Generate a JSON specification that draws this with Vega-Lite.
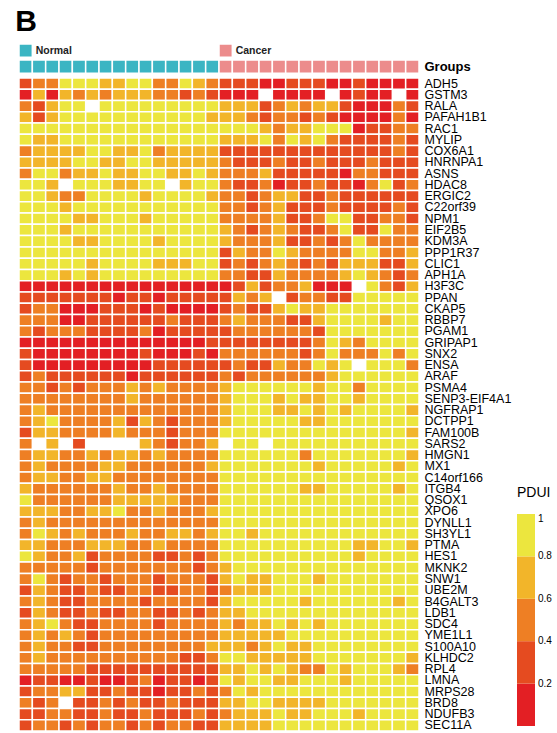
{
"$schema": "https://vega.github.io/schema/vega-lite/v6.json",
"padding": {"left": 15, "top": 7, "right": 0, "bottom": 0},
"title": {"text": "B", "fontSize": 30, "fontWeight": "bold", "font": "Liberation Sans", "anchor": "start", "dx": -3, "offset": 6, "color": "black"},
"config": {"view": {"stroke": null}, "font": "Liberation Sans", "concat": {"spacing": 3}},
"resolve": {"scale": {"color": "independent", "y": "independent"}, "legend": {"color": "independent"}},
"datasets": {
"groups": [
{"row":"legend","s":1,"grp":"Normal"},{"row":"legend","s":16,"grp":"Cancer"},
{"row":"Groups","s":1,"grp":"Normal"},{"row":"Groups","s":2,"grp":"Normal"},{"row":"Groups","s":3,"grp":"Normal"},{"row":"Groups","s":4,"grp":"Normal"},{"row":"Groups","s":5,"grp":"Normal"},{"row":"Groups","s":6,"grp":"Normal"},{"row":"Groups","s":7,"grp":"Normal"},{"row":"Groups","s":8,"grp":"Normal"},{"row":"Groups","s":9,"grp":"Normal"},{"row":"Groups","s":10,"grp":"Normal"},{"row":"Groups","s":11,"grp":"Normal"},{"row":"Groups","s":12,"grp":"Normal"},{"row":"Groups","s":13,"grp":"Normal"},{"row":"Groups","s":14,"grp":"Normal"},{"row":"Groups","s":15,"grp":"Normal"},
{"row":"Groups","s":16,"grp":"Cancer"},{"row":"Groups","s":17,"grp":"Cancer"},{"row":"Groups","s":18,"grp":"Cancer"},{"row":"Groups","s":19,"grp":"Cancer"},{"row":"Groups","s":20,"grp":"Cancer"},{"row":"Groups","s":21,"grp":"Cancer"},{"row":"Groups","s":22,"grp":"Cancer"},{"row":"Groups","s":23,"grp":"Cancer"},{"row":"Groups","s":24,"grp":"Cancer"},{"row":"Groups","s":25,"grp":"Cancer"},{"row":"Groups","s":26,"grp":"Cancer"},{"row":"Groups","s":27,"grp":"Cancer"},{"row":"Groups","s":28,"grp":"Cancer"},{"row":"Groups","s":29,"grp":"Cancer"},{"row":"Groups","s":30,"grp":"Cancer"}
],
"cells": [
{"g":"ADH5","s":1,"v":0.3},{"g":"ADH5","s":2,"v":0.5},{"g":"ADH5","s":3,"v":0.5},{"g":"ADH5","s":4,"v":0.9},{"g":"ADH5","s":5,"v":0.9},{"g":"ADH5","s":6,"v":0.9},{"g":"ADH5","s":7,"v":0.7},{"g":"ADH5","s":8,"v":0.7},{"g":"ADH5","s":9,"v":0.9},{"g":"ADH5","s":10,"v":0.9},{"g":"ADH5","s":11,"v":0.5},{"g":"ADH5","s":12,"v":0.5},{"g":"ADH5","s":13,"v":0.9},{"g":"ADH5","s":14,"v":0.7},{"g":"ADH5","s":15,"v":0.5},{"g":"ADH5","s":16,"v":0.3},{"g":"ADH5","s":17,"v":0.3},{"g":"ADH5","s":18,"v":0.3},{"g":"ADH5","s":19,"v":0.1},{"g":"ADH5","s":20,"v":0.1},{"g":"ADH5","s":21,"v":0.3},{"g":"ADH5","s":22,"v":0.3},{"g":"ADH5","s":23,"v":0.3},{"g":"ADH5","s":24,"v":0.1},{"g":"ADH5","s":25,"v":0.1},{"g":"ADH5","s":26,"v":0.3},{"g":"ADH5","s":27,"v":0.1},{"g":"ADH5","s":28,"v":0.1},{"g":"ADH5","s":29,"v":0.1},{"g":"ADH5","s":30,"v":0.1},
{"g":"GSTM3","s":1,"v":0.1},{"g":"GSTM3","s":2,"v":0.7},{"g":"GSTM3","s":3,"v":0.1},{"g":"GSTM3","s":4,"v":0.7},{"g":"GSTM3","s":5,"v":0.5},{"g":"GSTM3","s":6,"v":0.7},{"g":"GSTM3","s":7,"v":0.5},{"g":"GSTM3","s":8,"v":0.7},{"g":"GSTM3","s":9,"v":0.7},{"g":"GSTM3","s":10,"v":0.7},{"g":"GSTM3","s":11,"v":0.5},{"g":"GSTM3","s":12,"v":0.5},{"g":"GSTM3","s":13,"v":0.3},{"g":"GSTM3","s":14,"v":0.5},{"g":"GSTM3","s":15,"v":0.3},{"g":"GSTM3","s":16,"v":0.1},{"g":"GSTM3","s":17,"v":0.1},{"g":"GSTM3","s":18,"v":0.1},{"g":"GSTM3","s":19,"v":null},{"g":"GSTM3","s":20,"v":0.1},{"g":"GSTM3","s":21,"v":0.1},{"g":"GSTM3","s":22,"v":0.1},{"g":"GSTM3","s":23,"v":0.1},{"g":"GSTM3","s":24,"v":null},{"g":"GSTM3","s":25,"v":0.1},{"g":"GSTM3","s":26,"v":0.3},{"g":"GSTM3","s":27,"v":0.1},{"g":"GSTM3","s":28,"v":0.1},{"g":"GSTM3","s":29,"v":null},{"g":"GSTM3","s":30,"v":0.1},
{"g":"RALA","s":1,"v":0.5},{"g":"RALA","s":2,"v":0.3},{"g":"RALA","s":3,"v":0.7},{"g":"RALA","s":4,"v":0.9},{"g":"RALA","s":5,"v":0.9},{"g":"RALA","s":6,"v":null},{"g":"RALA","s":7,"v":0.9},{"g":"RALA","s":8,"v":0.9},{"g":"RALA","s":9,"v":0.9},{"g":"RALA","s":10,"v":0.9},{"g":"RALA","s":11,"v":0.9},{"g":"RALA","s":12,"v":0.9},{"g":"RALA","s":13,"v":0.9},{"g":"RALA","s":14,"v":0.9},{"g":"RALA","s":15,"v":0.9},{"g":"RALA","s":16,"v":0.7},{"g":"RALA","s":17,"v":0.7},{"g":"RALA","s":18,"v":0.7},{"g":"RALA","s":19,"v":0.3},{"g":"RALA","s":20,"v":0.5},{"g":"RALA","s":21,"v":0.7},{"g":"RALA","s":22,"v":0.5},{"g":"RALA","s":23,"v":0.7},{"g":"RALA","s":24,"v":0.7},{"g":"RALA","s":25,"v":0.3},{"g":"RALA","s":26,"v":0.1},{"g":"RALA","s":27,"v":0.1},{"g":"RALA","s":28,"v":0.1},{"g":"RALA","s":29,"v":0.5},{"g":"RALA","s":30,"v":0.3},
{"g":"PAFAH1B1","s":1,"v":0.7},{"g":"PAFAH1B1","s":2,"v":0.3},{"g":"PAFAH1B1","s":3,"v":0.7},{"g":"PAFAH1B1","s":4,"v":0.9},{"g":"PAFAH1B1","s":5,"v":0.9},{"g":"PAFAH1B1","s":6,"v":0.9},{"g":"PAFAH1B1","s":7,"v":0.9},{"g":"PAFAH1B1","s":8,"v":0.9},{"g":"PAFAH1B1","s":9,"v":0.9},{"g":"PAFAH1B1","s":10,"v":0.9},{"g":"PAFAH1B1","s":11,"v":0.9},{"g":"PAFAH1B1","s":12,"v":0.9},{"g":"PAFAH1B1","s":13,"v":0.9},{"g":"PAFAH1B1","s":14,"v":0.9},{"g":"PAFAH1B1","s":15,"v":0.7},{"g":"PAFAH1B1","s":16,"v":0.7},{"g":"PAFAH1B1","s":17,"v":0.7},{"g":"PAFAH1B1","s":18,"v":0.5},{"g":"PAFAH1B1","s":19,"v":0.3},{"g":"PAFAH1B1","s":20,"v":0.5},{"g":"PAFAH1B1","s":21,"v":0.5},{"g":"PAFAH1B1","s":22,"v":0.3},{"g":"PAFAH1B1","s":23,"v":0.5},{"g":"PAFAH1B1","s":24,"v":0.3},{"g":"PAFAH1B1","s":25,"v":0.1},{"g":"PAFAH1B1","s":26,"v":0.1},{"g":"PAFAH1B1","s":27,"v":0.1},{"g":"PAFAH1B1","s":28,"v":0.1},{"g":"PAFAH1B1","s":29,"v":0.5},{"g":"PAFAH1B1","s":30,"v":0.1},
{"g":"RAC1","s":1,"v":0.9},{"g":"RAC1","s":2,"v":0.9},{"g":"RAC1","s":3,"v":0.9},{"g":"RAC1","s":4,"v":0.9},{"g":"RAC1","s":5,"v":0.9},{"g":"RAC1","s":6,"v":0.9},{"g":"RAC1","s":7,"v":0.9},{"g":"RAC1","s":8,"v":0.9},{"g":"RAC1","s":9,"v":0.9},{"g":"RAC1","s":10,"v":0.9},{"g":"RAC1","s":11,"v":0.9},{"g":"RAC1","s":12,"v":0.9},{"g":"RAC1","s":13,"v":0.9},{"g":"RAC1","s":14,"v":0.9},{"g":"RAC1","s":15,"v":0.9},{"g":"RAC1","s":16,"v":0.9},{"g":"RAC1","s":17,"v":0.9},{"g":"RAC1","s":18,"v":0.9},{"g":"RAC1","s":19,"v":0.7},{"g":"RAC1","s":20,"v":0.5},{"g":"RAC1","s":21,"v":0.7},{"g":"RAC1","s":22,"v":0.7},{"g":"RAC1","s":23,"v":0.9},{"g":"RAC1","s":24,"v":0.9},{"g":"RAC1","s":25,"v":0.9},{"g":"RAC1","s":26,"v":0.1},{"g":"RAC1","s":27,"v":0.3},{"g":"RAC1","s":28,"v":0.3},{"g":"RAC1","s":29,"v":0.5},{"g":"RAC1","s":30,"v":0.5},
{"g":"MYLIP","s":1,"v":0.9},{"g":"MYLIP","s":2,"v":0.7},{"g":"MYLIP","s":3,"v":0.7},{"g":"MYLIP","s":4,"v":0.9},{"g":"MYLIP","s":5,"v":0.9},{"g":"MYLIP","s":6,"v":0.9},{"g":"MYLIP","s":7,"v":0.9},{"g":"MYLIP","s":8,"v":0.9},{"g":"MYLIP","s":9,"v":0.9},{"g":"MYLIP","s":10,"v":0.9},{"g":"MYLIP","s":11,"v":0.9},{"g":"MYLIP","s":12,"v":0.9},{"g":"MYLIP","s":13,"v":0.9},{"g":"MYLIP","s":14,"v":0.9},{"g":"MYLIP","s":15,"v":0.9},{"g":"MYLIP","s":16,"v":0.7},{"g":"MYLIP","s":17,"v":0.7},{"g":"MYLIP","s":18,"v":0.7},{"g":"MYLIP","s":19,"v":0.9},{"g":"MYLIP","s":20,"v":0.5},{"g":"MYLIP","s":21,"v":0.9},{"g":"MYLIP","s":22,"v":0.7},{"g":"MYLIP","s":23,"v":0.9},{"g":"MYLIP","s":24,"v":0.5},{"g":"MYLIP","s":25,"v":0.3},{"g":"MYLIP","s":26,"v":0.3},{"g":"MYLIP","s":27,"v":0.3},{"g":"MYLIP","s":28,"v":0.3},{"g":"MYLIP","s":29,"v":0.5},{"g":"MYLIP","s":30,"v":0.3},
{"g":"COX6A1","s":1,"v":0.5},{"g":"COX6A1","s":2,"v":0.7},{"g":"COX6A1","s":3,"v":0.7},{"g":"COX6A1","s":4,"v":0.7},{"g":"COX6A1","s":5,"v":0.7},{"g":"COX6A1","s":6,"v":0.9},{"g":"COX6A1","s":7,"v":0.9},{"g":"COX6A1","s":8,"v":0.7},{"g":"COX6A1","s":9,"v":0.7},{"g":"COX6A1","s":10,"v":0.9},{"g":"COX6A1","s":11,"v":0.5},{"g":"COX6A1","s":12,"v":0.7},{"g":"COX6A1","s":13,"v":0.7},{"g":"COX6A1","s":14,"v":0.7},{"g":"COX6A1","s":15,"v":0.7},{"g":"COX6A1","s":16,"v":0.3},{"g":"COX6A1","s":17,"v":0.3},{"g":"COX6A1","s":18,"v":0.3},{"g":"COX6A1","s":19,"v":0.3},{"g":"COX6A1","s":20,"v":0.3},{"g":"COX6A1","s":21,"v":0.3},{"g":"COX6A1","s":22,"v":0.3},{"g":"COX6A1","s":23,"v":0.3},{"g":"COX6A1","s":24,"v":0.3},{"g":"COX6A1","s":25,"v":0.3},{"g":"COX6A1","s":26,"v":0.3},{"g":"COX6A1","s":27,"v":0.3},{"g":"COX6A1","s":28,"v":0.3},{"g":"COX6A1","s":29,"v":0.5},{"g":"COX6A1","s":30,"v":0.3},
{"g":"HNRNPA1","s":1,"v":0.7},{"g":"HNRNPA1","s":2,"v":0.7},{"g":"HNRNPA1","s":3,"v":0.7},{"g":"HNRNPA1","s":4,"v":0.7},{"g":"HNRNPA1","s":5,"v":0.9},{"g":"HNRNPA1","s":6,"v":0.9},{"g":"HNRNPA1","s":7,"v":0.7},{"g":"HNRNPA1","s":8,"v":0.7},{"g":"HNRNPA1","s":9,"v":0.9},{"g":"HNRNPA1","s":10,"v":0.9},{"g":"HNRNPA1","s":11,"v":0.7},{"g":"HNRNPA1","s":12,"v":0.7},{"g":"HNRNPA1","s":13,"v":0.7},{"g":"HNRNPA1","s":14,"v":0.7},{"g":"HNRNPA1","s":15,"v":0.7},{"g":"HNRNPA1","s":16,"v":0.5},{"g":"HNRNPA1","s":17,"v":0.3},{"g":"HNRNPA1","s":18,"v":0.3},{"g":"HNRNPA1","s":19,"v":0.3},{"g":"HNRNPA1","s":20,"v":0.5},{"g":"HNRNPA1","s":21,"v":0.3},{"g":"HNRNPA1","s":22,"v":0.3},{"g":"HNRNPA1","s":23,"v":0.5},{"g":"HNRNPA1","s":24,"v":0.3},{"g":"HNRNPA1","s":25,"v":0.3},{"g":"HNRNPA1","s":26,"v":0.3},{"g":"HNRNPA1","s":27,"v":0.5},{"g":"HNRNPA1","s":28,"v":0.3},{"g":"HNRNPA1","s":29,"v":0.3},{"g":"HNRNPA1","s":30,"v":0.3},
{"g":"ASNS","s":1,"v":0.5},{"g":"ASNS","s":2,"v":0.9},{"g":"ASNS","s":3,"v":0.9},{"g":"ASNS","s":4,"v":0.5},{"g":"ASNS","s":5,"v":0.7},{"g":"ASNS","s":6,"v":0.7},{"g":"ASNS","s":7,"v":0.9},{"g":"ASNS","s":8,"v":0.7},{"g":"ASNS","s":9,"v":0.7},{"g":"ASNS","s":10,"v":0.9},{"g":"ASNS","s":11,"v":0.9},{"g":"ASNS","s":12,"v":0.7},{"g":"ASNS","s":13,"v":0.7},{"g":"ASNS","s":14,"v":0.9},{"g":"ASNS","s":15,"v":0.7},{"g":"ASNS","s":16,"v":0.5},{"g":"ASNS","s":17,"v":0.5},{"g":"ASNS","s":18,"v":0.5},{"g":"ASNS","s":19,"v":0.7},{"g":"ASNS","s":20,"v":0.3},{"g":"ASNS","s":21,"v":0.3},{"g":"ASNS","s":22,"v":0.3},{"g":"ASNS","s":23,"v":0.3},{"g":"ASNS","s":24,"v":0.3},{"g":"ASNS","s":25,"v":0.1},{"g":"ASNS","s":26,"v":0.5},{"g":"ASNS","s":27,"v":0.5},{"g":"ASNS","s":28,"v":0.3},{"g":"ASNS","s":29,"v":0.3},{"g":"ASNS","s":30,"v":0.3},
{"g":"HDAC8","s":1,"v":0.9},{"g":"HDAC8","s":2,"v":0.9},{"g":"HDAC8","s":3,"v":0.7},{"g":"HDAC8","s":4,"v":null},{"g":"HDAC8","s":5,"v":0.9},{"g":"HDAC8","s":6,"v":0.9},{"g":"HDAC8","s":7,"v":0.9},{"g":"HDAC8","s":8,"v":0.7},{"g":"HDAC8","s":9,"v":0.7},{"g":"HDAC8","s":10,"v":0.9},{"g":"HDAC8","s":11,"v":0.9},{"g":"HDAC8","s":12,"v":null},{"g":"HDAC8","s":13,"v":0.7},{"g":"HDAC8","s":14,"v":0.9},{"g":"HDAC8","s":15,"v":0.9},{"g":"HDAC8","s":16,"v":0.5},{"g":"HDAC8","s":17,"v":0.3},{"g":"HDAC8","s":18,"v":0.3},{"g":"HDAC8","s":19,"v":0.5},{"g":"HDAC8","s":20,"v":0.1},{"g":"HDAC8","s":21,"v":0.3},{"g":"HDAC8","s":22,"v":0.3},{"g":"HDAC8","s":23,"v":0.5},{"g":"HDAC8","s":24,"v":0.3},{"g":"HDAC8","s":25,"v":0.3},{"g":"HDAC8","s":26,"v":0.1},{"g":"HDAC8","s":27,"v":0.5},{"g":"HDAC8","s":28,"v":0.9},{"g":"HDAC8","s":29,"v":0.3},{"g":"HDAC8","s":30,"v":0.5},
{"g":"ERGIC2","s":1,"v":0.9},{"g":"ERGIC2","s":2,"v":0.9},{"g":"ERGIC2","s":3,"v":0.7},{"g":"ERGIC2","s":4,"v":0.5},{"g":"ERGIC2","s":5,"v":0.5},{"g":"ERGIC2","s":6,"v":0.9},{"g":"ERGIC2","s":7,"v":0.9},{"g":"ERGIC2","s":8,"v":0.9},{"g":"ERGIC2","s":9,"v":0.9},{"g":"ERGIC2","s":10,"v":0.7},{"g":"ERGIC2","s":11,"v":0.9},{"g":"ERGIC2","s":12,"v":0.9},{"g":"ERGIC2","s":13,"v":0.9},{"g":"ERGIC2","s":14,"v":0.9},{"g":"ERGIC2","s":15,"v":0.7},{"g":"ERGIC2","s":16,"v":0.5},{"g":"ERGIC2","s":17,"v":0.5},{"g":"ERGIC2","s":18,"v":0.3},{"g":"ERGIC2","s":19,"v":0.5},{"g":"ERGIC2","s":20,"v":0.7},{"g":"ERGIC2","s":21,"v":0.7},{"g":"ERGIC2","s":22,"v":0.3},{"g":"ERGIC2","s":23,"v":0.3},{"g":"ERGIC2","s":24,"v":0.5},{"g":"ERGIC2","s":25,"v":0.3},{"g":"ERGIC2","s":26,"v":0.3},{"g":"ERGIC2","s":27,"v":0.3},{"g":"ERGIC2","s":28,"v":0.3},{"g":"ERGIC2","s":29,"v":0.3},{"g":"ERGIC2","s":30,"v":0.3},
{"g":"C22orf39","s":1,"v":0.9},{"g":"C22orf39","s":2,"v":0.9},{"g":"C22orf39","s":3,"v":0.9},{"g":"C22orf39","s":4,"v":0.7},{"g":"C22orf39","s":5,"v":0.9},{"g":"C22orf39","s":6,"v":0.9},{"g":"C22orf39","s":7,"v":0.9},{"g":"C22orf39","s":8,"v":0.9},{"g":"C22orf39","s":9,"v":0.9},{"g":"C22orf39","s":10,"v":0.9},{"g":"C22orf39","s":11,"v":0.9},{"g":"C22orf39","s":12,"v":0.9},{"g":"C22orf39","s":13,"v":0.9},{"g":"C22orf39","s":14,"v":0.9},{"g":"C22orf39","s":15,"v":0.9},{"g":"C22orf39","s":16,"v":0.5},{"g":"C22orf39","s":17,"v":0.5},{"g":"C22orf39","s":18,"v":0.3},{"g":"C22orf39","s":19,"v":0.5},{"g":"C22orf39","s":20,"v":0.7},{"g":"C22orf39","s":21,"v":0.3},{"g":"C22orf39","s":22,"v":0.3},{"g":"C22orf39","s":23,"v":0.3},{"g":"C22orf39","s":24,"v":0.5},{"g":"C22orf39","s":25,"v":0.3},{"g":"C22orf39","s":26,"v":0.3},{"g":"C22orf39","s":27,"v":0.3},{"g":"C22orf39","s":28,"v":0.3},{"g":"C22orf39","s":29,"v":0.5},{"g":"C22orf39","s":30,"v":0.3},
{"g":"NPM1","s":1,"v":0.9},{"g":"NPM1","s":2,"v":0.9},{"g":"NPM1","s":3,"v":0.9},{"g":"NPM1","s":4,"v":0.9},{"g":"NPM1","s":5,"v":0.7},{"g":"NPM1","s":6,"v":0.7},{"g":"NPM1","s":7,"v":0.9},{"g":"NPM1","s":8,"v":0.9},{"g":"NPM1","s":9,"v":0.9},{"g":"NPM1","s":10,"v":0.7},{"g":"NPM1","s":11,"v":0.9},{"g":"NPM1","s":12,"v":0.9},{"g":"NPM1","s":13,"v":0.9},{"g":"NPM1","s":14,"v":0.9},{"g":"NPM1","s":15,"v":0.9},{"g":"NPM1","s":16,"v":0.5},{"g":"NPM1","s":17,"v":0.5},{"g":"NPM1","s":18,"v":0.5},{"g":"NPM1","s":19,"v":0.5},{"g":"NPM1","s":20,"v":0.7},{"g":"NPM1","s":21,"v":0.3},{"g":"NPM1","s":22,"v":0.3},{"g":"NPM1","s":23,"v":0.5},{"g":"NPM1","s":24,"v":0.9},{"g":"NPM1","s":25,"v":0.9},{"g":"NPM1","s":26,"v":0.3},{"g":"NPM1","s":27,"v":0.3},{"g":"NPM1","s":28,"v":0.5},{"g":"NPM1","s":29,"v":0.5},{"g":"NPM1","s":30,"v":0.3},
{"g":"EIF2B5","s":1,"v":0.9},{"g":"EIF2B5","s":2,"v":0.9},{"g":"EIF2B5","s":3,"v":0.9},{"g":"EIF2B5","s":4,"v":0.7},{"g":"EIF2B5","s":5,"v":0.9},{"g":"EIF2B5","s":6,"v":0.9},{"g":"EIF2B5","s":7,"v":0.9},{"g":"EIF2B5","s":8,"v":0.9},{"g":"EIF2B5","s":9,"v":0.9},{"g":"EIF2B5","s":10,"v":0.9},{"g":"EIF2B5","s":11,"v":0.9},{"g":"EIF2B5","s":12,"v":0.9},{"g":"EIF2B5","s":13,"v":0.9},{"g":"EIF2B5","s":14,"v":0.9},{"g":"EIF2B5","s":15,"v":0.9},{"g":"EIF2B5","s":16,"v":0.7},{"g":"EIF2B5","s":17,"v":0.5},{"g":"EIF2B5","s":18,"v":0.3},{"g":"EIF2B5","s":19,"v":0.5},{"g":"EIF2B5","s":20,"v":0.7},{"g":"EIF2B5","s":21,"v":0.5},{"g":"EIF2B5","s":22,"v":0.3},{"g":"EIF2B5","s":23,"v":0.3},{"g":"EIF2B5","s":24,"v":0.5},{"g":"EIF2B5","s":25,"v":0.9},{"g":"EIF2B5","s":26,"v":0.3},{"g":"EIF2B5","s":27,"v":0.3},{"g":"EIF2B5","s":28,"v":0.9},{"g":"EIF2B5","s":29,"v":0.5},{"g":"EIF2B5","s":30,"v":0.5},
{"g":"KDM3A","s":1,"v":0.9},{"g":"KDM3A","s":2,"v":0.9},{"g":"KDM3A","s":3,"v":0.9},{"g":"KDM3A","s":4,"v":0.9},{"g":"KDM3A","s":5,"v":0.7},{"g":"KDM3A","s":6,"v":0.7},{"g":"KDM3A","s":7,"v":0.9},{"g":"KDM3A","s":8,"v":0.9},{"g":"KDM3A","s":9,"v":0.9},{"g":"KDM3A","s":10,"v":0.9},{"g":"KDM3A","s":11,"v":0.7},{"g":"KDM3A","s":12,"v":0.9},{"g":"KDM3A","s":13,"v":0.9},{"g":"KDM3A","s":14,"v":0.9},{"g":"KDM3A","s":15,"v":0.9},{"g":"KDM3A","s":16,"v":0.7},{"g":"KDM3A","s":17,"v":0.5},{"g":"KDM3A","s":18,"v":0.5},{"g":"KDM3A","s":19,"v":0.5},{"g":"KDM3A","s":20,"v":0.7},{"g":"KDM3A","s":21,"v":0.3},{"g":"KDM3A","s":22,"v":0.3},{"g":"KDM3A","s":23,"v":0.5},{"g":"KDM3A","s":24,"v":0.3},{"g":"KDM3A","s":25,"v":0.5},{"g":"KDM3A","s":26,"v":0.9},{"g":"KDM3A","s":27,"v":0.5},{"g":"KDM3A","s":28,"v":0.5},{"g":"KDM3A","s":29,"v":0.5},{"g":"KDM3A","s":30,"v":0.5},
{"g":"PPP1R37","s":1,"v":0.9},{"g":"PPP1R37","s":2,"v":0.9},{"g":"PPP1R37","s":3,"v":0.9},{"g":"PPP1R37","s":4,"v":0.9},{"g":"PPP1R37","s":5,"v":0.9},{"g":"PPP1R37","s":6,"v":0.9},{"g":"PPP1R37","s":7,"v":0.9},{"g":"PPP1R37","s":8,"v":0.9},{"g":"PPP1R37","s":9,"v":0.9},{"g":"PPP1R37","s":10,"v":0.9},{"g":"PPP1R37","s":11,"v":0.9},{"g":"PPP1R37","s":12,"v":0.9},{"g":"PPP1R37","s":13,"v":0.9},{"g":"PPP1R37","s":14,"v":0.9},{"g":"PPP1R37","s":15,"v":0.9},{"g":"PPP1R37","s":16,"v":0.3},{"g":"PPP1R37","s":17,"v":0.7},{"g":"PPP1R37","s":18,"v":0.5},{"g":"PPP1R37","s":19,"v":0.5},{"g":"PPP1R37","s":20,"v":0.9},{"g":"PPP1R37","s":21,"v":0.7},{"g":"PPP1R37","s":22,"v":0.5},{"g":"PPP1R37","s":23,"v":0.5},{"g":"PPP1R37","s":24,"v":0.5},{"g":"PPP1R37","s":25,"v":0.5},{"g":"PPP1R37","s":26,"v":0.9},{"g":"PPP1R37","s":27,"v":0.9},{"g":"PPP1R37","s":28,"v":0.5},{"g":"PPP1R37","s":29,"v":0.5},{"g":"PPP1R37","s":30,"v":0.7},
{"g":"CLIC1","s":1,"v":0.9},{"g":"CLIC1","s":2,"v":0.9},{"g":"CLIC1","s":3,"v":0.9},{"g":"CLIC1","s":4,"v":0.9},{"g":"CLIC1","s":5,"v":0.9},{"g":"CLIC1","s":6,"v":0.7},{"g":"CLIC1","s":7,"v":0.9},{"g":"CLIC1","s":8,"v":0.9},{"g":"CLIC1","s":9,"v":0.9},{"g":"CLIC1","s":10,"v":0.9},{"g":"CLIC1","s":11,"v":0.7},{"g":"CLIC1","s":12,"v":0.7},{"g":"CLIC1","s":13,"v":0.7},{"g":"CLIC1","s":14,"v":0.9},{"g":"CLIC1","s":15,"v":0.9},{"g":"CLIC1","s":16,"v":0.3},{"g":"CLIC1","s":17,"v":0.5},{"g":"CLIC1","s":18,"v":0.3},{"g":"CLIC1","s":19,"v":0.5},{"g":"CLIC1","s":20,"v":0.7},{"g":"CLIC1","s":21,"v":0.5},{"g":"CLIC1","s":22,"v":0.3},{"g":"CLIC1","s":23,"v":0.5},{"g":"CLIC1","s":24,"v":0.3},{"g":"CLIC1","s":25,"v":0.7},{"g":"CLIC1","s":26,"v":0.7},{"g":"CLIC1","s":27,"v":0.7},{"g":"CLIC1","s":28,"v":0.3},{"g":"CLIC1","s":29,"v":0.3},{"g":"CLIC1","s":30,"v":0.7},
{"g":"APH1A","s":1,"v":0.9},{"g":"APH1A","s":2,"v":0.9},{"g":"APH1A","s":3,"v":0.9},{"g":"APH1A","s":4,"v":0.7},{"g":"APH1A","s":5,"v":0.9},{"g":"APH1A","s":6,"v":0.7},{"g":"APH1A","s":7,"v":0.9},{"g":"APH1A","s":8,"v":0.9},{"g":"APH1A","s":9,"v":0.9},{"g":"APH1A","s":10,"v":0.9},{"g":"APH1A","s":11,"v":0.9},{"g":"APH1A","s":12,"v":0.9},{"g":"APH1A","s":13,"v":0.9},{"g":"APH1A","s":14,"v":0.9},{"g":"APH1A","s":15,"v":0.9},{"g":"APH1A","s":16,"v":0.5},{"g":"APH1A","s":17,"v":0.5},{"g":"APH1A","s":18,"v":0.3},{"g":"APH1A","s":19,"v":0.3},{"g":"APH1A","s":20,"v":0.7},{"g":"APH1A","s":21,"v":0.5},{"g":"APH1A","s":22,"v":0.5},{"g":"APH1A","s":23,"v":0.5},{"g":"APH1A","s":24,"v":0.5},{"g":"APH1A","s":25,"v":0.7},{"g":"APH1A","s":26,"v":0.9},{"g":"APH1A","s":27,"v":0.7},{"g":"APH1A","s":28,"v":0.5},{"g":"APH1A","s":29,"v":0.3},{"g":"APH1A","s":30,"v":0.5},
{"g":"H3F3C","s":1,"v":0.1},{"g":"H3F3C","s":2,"v":0.1},{"g":"H3F3C","s":3,"v":0.1},{"g":"H3F3C","s":4,"v":0.1},{"g":"H3F3C","s":5,"v":0.1},{"g":"H3F3C","s":6,"v":0.1},{"g":"H3F3C","s":7,"v":0.1},{"g":"H3F3C","s":8,"v":0.1},{"g":"H3F3C","s":9,"v":0.1},{"g":"H3F3C","s":10,"v":0.1},{"g":"H3F3C","s":11,"v":0.1},{"g":"H3F3C","s":12,"v":0.1},{"g":"H3F3C","s":13,"v":0.1},{"g":"H3F3C","s":14,"v":0.1},{"g":"H3F3C","s":15,"v":0.1},{"g":"H3F3C","s":16,"v":0.1},{"g":"H3F3C","s":17,"v":0.3},{"g":"H3F3C","s":18,"v":0.7},{"g":"H3F3C","s":19,"v":0.3},{"g":"H3F3C","s":20,"v":0.5},{"g":"H3F3C","s":21,"v":0.5},{"g":"H3F3C","s":22,"v":0.7},{"g":"H3F3C","s":23,"v":0.1},{"g":"H3F3C","s":24,"v":0.1},{"g":"H3F3C","s":25,"v":0.1},{"g":"H3F3C","s":26,"v":null},{"g":"H3F3C","s":27,"v":0.9},{"g":"H3F3C","s":28,"v":0.5},{"g":"H3F3C","s":29,"v":0.3},{"g":"H3F3C","s":30,"v":0.7},
{"g":"PPAN","s":1,"v":0.3},{"g":"PPAN","s":2,"v":0.3},{"g":"PPAN","s":3,"v":0.3},{"g":"PPAN","s":4,"v":0.3},{"g":"PPAN","s":5,"v":0.3},{"g":"PPAN","s":6,"v":0.3},{"g":"PPAN","s":7,"v":0.3},{"g":"PPAN","s":8,"v":0.1},{"g":"PPAN","s":9,"v":0.3},{"g":"PPAN","s":10,"v":0.3},{"g":"PPAN","s":11,"v":0.1},{"g":"PPAN","s":12,"v":0.3},{"g":"PPAN","s":13,"v":0.3},{"g":"PPAN","s":14,"v":0.3},{"g":"PPAN","s":15,"v":0.3},{"g":"PPAN","s":16,"v":0.3},{"g":"PPAN","s":17,"v":0.7},{"g":"PPAN","s":18,"v":0.5},{"g":"PPAN","s":19,"v":0.7},{"g":"PPAN","s":20,"v":null},{"g":"PPAN","s":21,"v":0.3},{"g":"PPAN","s":22,"v":0.5},{"g":"PPAN","s":23,"v":0.5},{"g":"PPAN","s":24,"v":0.3},{"g":"PPAN","s":25,"v":0.3},{"g":"PPAN","s":26,"v":0.9},{"g":"PPAN","s":27,"v":0.9},{"g":"PPAN","s":28,"v":0.9},{"g":"PPAN","s":29,"v":0.9},{"g":"PPAN","s":30,"v":0.9},
{"g":"CKAP5","s":1,"v":0.3},{"g":"CKAP5","s":2,"v":0.5},{"g":"CKAP5","s":3,"v":0.5},{"g":"CKAP5","s":4,"v":0.1},{"g":"CKAP5","s":5,"v":0.1},{"g":"CKAP5","s":6,"v":0.1},{"g":"CKAP5","s":7,"v":0.3},{"g":"CKAP5","s":8,"v":0.3},{"g":"CKAP5","s":9,"v":0.3},{"g":"CKAP5","s":10,"v":0.1},{"g":"CKAP5","s":11,"v":0.3},{"g":"CKAP5","s":12,"v":0.1},{"g":"CKAP5","s":13,"v":0.1},{"g":"CKAP5","s":14,"v":0.1},{"g":"CKAP5","s":15,"v":0.1},{"g":"CKAP5","s":16,"v":0.3},{"g":"CKAP5","s":17,"v":0.5},{"g":"CKAP5","s":18,"v":0.3},{"g":"CKAP5","s":19,"v":0.3},{"g":"CKAP5","s":20,"v":0.7},{"g":"CKAP5","s":21,"v":0.9},{"g":"CKAP5","s":22,"v":0.7},{"g":"CKAP5","s":23,"v":0.7},{"g":"CKAP5","s":24,"v":0.9},{"g":"CKAP5","s":25,"v":0.9},{"g":"CKAP5","s":26,"v":0.9},{"g":"CKAP5","s":27,"v":0.9},{"g":"CKAP5","s":28,"v":0.9},{"g":"CKAP5","s":29,"v":0.9},{"g":"CKAP5","s":30,"v":0.9},
{"g":"RBBP7","s":1,"v":0.5},{"g":"RBBP7","s":2,"v":0.5},{"g":"RBBP7","s":3,"v":0.5},{"g":"RBBP7","s":4,"v":0.1},{"g":"RBBP7","s":5,"v":0.1},{"g":"RBBP7","s":6,"v":0.3},{"g":"RBBP7","s":7,"v":0.3},{"g":"RBBP7","s":8,"v":0.3},{"g":"RBBP7","s":9,"v":0.3},{"g":"RBBP7","s":10,"v":0.3},{"g":"RBBP7","s":11,"v":0.3},{"g":"RBBP7","s":12,"v":0.5},{"g":"RBBP7","s":13,"v":0.3},{"g":"RBBP7","s":14,"v":0.3},{"g":"RBBP7","s":15,"v":0.3},{"g":"RBBP7","s":16,"v":0.5},{"g":"RBBP7","s":17,"v":0.7},{"g":"RBBP7","s":18,"v":0.5},{"g":"RBBP7","s":19,"v":0.5},{"g":"RBBP7","s":20,"v":0.5},{"g":"RBBP7","s":21,"v":0.3},{"g":"RBBP7","s":22,"v":0.3},{"g":"RBBP7","s":23,"v":0.7},{"g":"RBBP7","s":24,"v":0.9},{"g":"RBBP7","s":25,"v":0.9},{"g":"RBBP7","s":26,"v":0.9},{"g":"RBBP7","s":27,"v":0.9},{"g":"RBBP7","s":28,"v":0.7},{"g":"RBBP7","s":29,"v":0.9},{"g":"RBBP7","s":30,"v":0.9},
{"g":"PGAM1","s":1,"v":0.5},{"g":"PGAM1","s":2,"v":0.3},{"g":"PGAM1","s":3,"v":0.5},{"g":"PGAM1","s":4,"v":0.5},{"g":"PGAM1","s":5,"v":0.5},{"g":"PGAM1","s":6,"v":0.3},{"g":"PGAM1","s":7,"v":0.3},{"g":"PGAM1","s":8,"v":0.3},{"g":"PGAM1","s":9,"v":0.3},{"g":"PGAM1","s":10,"v":0.5},{"g":"PGAM1","s":11,"v":0.1},{"g":"PGAM1","s":12,"v":0.3},{"g":"PGAM1","s":13,"v":0.3},{"g":"PGAM1","s":14,"v":0.3},{"g":"PGAM1","s":15,"v":0.3},{"g":"PGAM1","s":16,"v":0.3},{"g":"PGAM1","s":17,"v":0.5},{"g":"PGAM1","s":18,"v":0.5},{"g":"PGAM1","s":19,"v":0.5},{"g":"PGAM1","s":20,"v":0.5},{"g":"PGAM1","s":21,"v":0.5},{"g":"PGAM1","s":22,"v":0.5},{"g":"PGAM1","s":23,"v":0.3},{"g":"PGAM1","s":24,"v":0.9},{"g":"PGAM1","s":25,"v":0.9},{"g":"PGAM1","s":26,"v":0.9},{"g":"PGAM1","s":27,"v":0.9},{"g":"PGAM1","s":28,"v":0.9},{"g":"PGAM1","s":29,"v":0.9},{"g":"PGAM1","s":30,"v":0.9},
{"g":"GRIPAP1","s":1,"v":0.1},{"g":"GRIPAP1","s":2,"v":0.1},{"g":"GRIPAP1","s":3,"v":0.1},{"g":"GRIPAP1","s":4,"v":0.1},{"g":"GRIPAP1","s":5,"v":0.1},{"g":"GRIPAP1","s":6,"v":0.1},{"g":"GRIPAP1","s":7,"v":0.1},{"g":"GRIPAP1","s":8,"v":0.1},{"g":"GRIPAP1","s":9,"v":0.1},{"g":"GRIPAP1","s":10,"v":0.1},{"g":"GRIPAP1","s":11,"v":0.1},{"g":"GRIPAP1","s":12,"v":0.1},{"g":"GRIPAP1","s":13,"v":0.1},{"g":"GRIPAP1","s":14,"v":0.1},{"g":"GRIPAP1","s":15,"v":0.3},{"g":"GRIPAP1","s":16,"v":0.3},{"g":"GRIPAP1","s":17,"v":0.3},{"g":"GRIPAP1","s":18,"v":0.3},{"g":"GRIPAP1","s":19,"v":0.3},{"g":"GRIPAP1","s":20,"v":0.3},{"g":"GRIPAP1","s":21,"v":0.3},{"g":"GRIPAP1","s":22,"v":0.3},{"g":"GRIPAP1","s":23,"v":0.5},{"g":"GRIPAP1","s":24,"v":0.9},{"g":"GRIPAP1","s":25,"v":0.7},{"g":"GRIPAP1","s":26,"v":0.5},{"g":"GRIPAP1","s":27,"v":0.9},{"g":"GRIPAP1","s":28,"v":0.9},{"g":"GRIPAP1","s":29,"v":0.9},{"g":"GRIPAP1","s":30,"v":0.9},
{"g":"SNX2","s":1,"v":0.3},{"g":"SNX2","s":2,"v":0.1},{"g":"SNX2","s":3,"v":0.1},{"g":"SNX2","s":4,"v":0.1},{"g":"SNX2","s":5,"v":0.1},{"g":"SNX2","s":6,"v":0.1},{"g":"SNX2","s":7,"v":0.1},{"g":"SNX2","s":8,"v":0.1},{"g":"SNX2","s":9,"v":0.1},{"g":"SNX2","s":10,"v":0.3},{"g":"SNX2","s":11,"v":0.1},{"g":"SNX2","s":12,"v":0.1},{"g":"SNX2","s":13,"v":0.1},{"g":"SNX2","s":14,"v":0.3},{"g":"SNX2","s":15,"v":0.1},{"g":"SNX2","s":16,"v":0.5},{"g":"SNX2","s":17,"v":0.5},{"g":"SNX2","s":18,"v":0.5},{"g":"SNX2","s":19,"v":0.5},{"g":"SNX2","s":20,"v":0.5},{"g":"SNX2","s":21,"v":0.5},{"g":"SNX2","s":22,"v":0.3},{"g":"SNX2","s":23,"v":0.5},{"g":"SNX2","s":24,"v":0.9},{"g":"SNX2","s":25,"v":0.5},{"g":"SNX2","s":26,"v":0.5},{"g":"SNX2","s":27,"v":0.5},{"g":"SNX2","s":28,"v":0.9},{"g":"SNX2","s":29,"v":0.5},{"g":"SNX2","s":30,"v":0.9},
{"g":"ENSA","s":1,"v":0.3},{"g":"ENSA","s":2,"v":0.1},{"g":"ENSA","s":3,"v":0.1},{"g":"ENSA","s":4,"v":0.1},{"g":"ENSA","s":5,"v":0.1},{"g":"ENSA","s":6,"v":0.1},{"g":"ENSA","s":7,"v":0.1},{"g":"ENSA","s":8,"v":0.1},{"g":"ENSA","s":9,"v":0.1},{"g":"ENSA","s":10,"v":0.1},{"g":"ENSA","s":11,"v":0.3},{"g":"ENSA","s":12,"v":0.3},{"g":"ENSA","s":13,"v":0.3},{"g":"ENSA","s":14,"v":0.3},{"g":"ENSA","s":15,"v":0.3},{"g":"ENSA","s":16,"v":0.3},{"g":"ENSA","s":17,"v":0.5},{"g":"ENSA","s":18,"v":0.3},{"g":"ENSA","s":19,"v":0.3},{"g":"ENSA","s":20,"v":0.7},{"g":"ENSA","s":21,"v":0.5},{"g":"ENSA","s":22,"v":0.5},{"g":"ENSA","s":23,"v":0.9},{"g":"ENSA","s":24,"v":0.7},{"g":"ENSA","s":25,"v":0.9},{"g":"ENSA","s":26,"v":null},{"g":"ENSA","s":27,"v":0.9},{"g":"ENSA","s":28,"v":0.9},{"g":"ENSA","s":29,"v":0.9},{"g":"ENSA","s":30,"v":0.5},
{"g":"ARAF","s":1,"v":0.3},{"g":"ARAF","s":2,"v":0.5},{"g":"ARAF","s":3,"v":0.3},{"g":"ARAF","s":4,"v":0.3},{"g":"ARAF","s":5,"v":0.3},{"g":"ARAF","s":6,"v":0.3},{"g":"ARAF","s":7,"v":0.3},{"g":"ARAF","s":8,"v":0.3},{"g":"ARAF","s":9,"v":0.1},{"g":"ARAF","s":10,"v":0.3},{"g":"ARAF","s":11,"v":0.3},{"g":"ARAF","s":12,"v":0.3},{"g":"ARAF","s":13,"v":0.3},{"g":"ARAF","s":14,"v":0.3},{"g":"ARAF","s":15,"v":0.3},{"g":"ARAF","s":16,"v":0.5},{"g":"ARAF","s":17,"v":0.3},{"g":"ARAF","s":18,"v":0.5},{"g":"ARAF","s":19,"v":0.5},{"g":"ARAF","s":20,"v":0.5},{"g":"ARAF","s":21,"v":0.5},{"g":"ARAF","s":22,"v":0.5},{"g":"ARAF","s":23,"v":0.5},{"g":"ARAF","s":24,"v":0.7},{"g":"ARAF","s":25,"v":0.9},{"g":"ARAF","s":26,"v":0.9},{"g":"ARAF","s":27,"v":0.9},{"g":"ARAF","s":28,"v":0.9},{"g":"ARAF","s":29,"v":0.9},{"g":"ARAF","s":30,"v":0.9},
{"g":"PSMA4","s":1,"v":0.5},{"g":"PSMA4","s":2,"v":0.5},{"g":"PSMA4","s":3,"v":0.3},{"g":"PSMA4","s":4,"v":0.5},{"g":"PSMA4","s":5,"v":0.3},{"g":"PSMA4","s":6,"v":0.5},{"g":"PSMA4","s":7,"v":0.5},{"g":"PSMA4","s":8,"v":0.5},{"g":"PSMA4","s":9,"v":0.7},{"g":"PSMA4","s":10,"v":0.5},{"g":"PSMA4","s":11,"v":0.7},{"g":"PSMA4","s":12,"v":0.5},{"g":"PSMA4","s":13,"v":0.5},{"g":"PSMA4","s":14,"v":0.5},{"g":"PSMA4","s":15,"v":0.5},{"g":"PSMA4","s":16,"v":0.7},{"g":"PSMA4","s":17,"v":0.9},{"g":"PSMA4","s":18,"v":0.9},{"g":"PSMA4","s":19,"v":0.9},{"g":"PSMA4","s":20,"v":0.9},{"g":"PSMA4","s":21,"v":0.9},{"g":"PSMA4","s":22,"v":0.9},{"g":"PSMA4","s":23,"v":0.7},{"g":"PSMA4","s":24,"v":0.9},{"g":"PSMA4","s":25,"v":0.9},{"g":"PSMA4","s":26,"v":0.5},{"g":"PSMA4","s":27,"v":0.9},{"g":"PSMA4","s":28,"v":0.9},{"g":"PSMA4","s":29,"v":0.9},{"g":"PSMA4","s":30,"v":0.9},
{"g":"SENP3-EIF4A1","s":1,"v":0.5},{"g":"SENP3-EIF4A1","s":2,"v":0.5},{"g":"SENP3-EIF4A1","s":3,"v":0.5},{"g":"SENP3-EIF4A1","s":4,"v":0.5},{"g":"SENP3-EIF4A1","s":5,"v":0.5},{"g":"SENP3-EIF4A1","s":6,"v":0.5},{"g":"SENP3-EIF4A1","s":7,"v":0.5},{"g":"SENP3-EIF4A1","s":8,"v":0.5},{"g":"SENP3-EIF4A1","s":9,"v":0.7},{"g":"SENP3-EIF4A1","s":10,"v":0.5},{"g":"SENP3-EIF4A1","s":11,"v":0.5},{"g":"SENP3-EIF4A1","s":12,"v":0.5},{"g":"SENP3-EIF4A1","s":13,"v":0.5},{"g":"SENP3-EIF4A1","s":14,"v":0.5},{"g":"SENP3-EIF4A1","s":15,"v":0.5},{"g":"SENP3-EIF4A1","s":16,"v":0.7},{"g":"SENP3-EIF4A1","s":17,"v":0.9},{"g":"SENP3-EIF4A1","s":18,"v":0.9},{"g":"SENP3-EIF4A1","s":19,"v":0.9},{"g":"SENP3-EIF4A1","s":20,"v":0.7},{"g":"SENP3-EIF4A1","s":21,"v":0.9},{"g":"SENP3-EIF4A1","s":22,"v":0.7},{"g":"SENP3-EIF4A1","s":23,"v":0.7},{"g":"SENP3-EIF4A1","s":24,"v":0.9},{"g":"SENP3-EIF4A1","s":25,"v":0.9},{"g":"SENP3-EIF4A1","s":26,"v":0.7},{"g":"SENP3-EIF4A1","s":27,"v":0.9},{"g":"SENP3-EIF4A1","s":28,"v":0.9},{"g":"SENP3-EIF4A1","s":29,"v":0.9},{"g":"SENP3-EIF4A1","s":30,"v":0.9},
{"g":"NGFRAP1","s":1,"v":0.5},{"g":"NGFRAP1","s":2,"v":0.7},{"g":"NGFRAP1","s":3,"v":0.5},{"g":"NGFRAP1","s":4,"v":0.5},{"g":"NGFRAP1","s":5,"v":0.5},{"g":"NGFRAP1","s":6,"v":0.5},{"g":"NGFRAP1","s":7,"v":0.5},{"g":"NGFRAP1","s":8,"v":0.5},{"g":"NGFRAP1","s":9,"v":0.5},{"g":"NGFRAP1","s":10,"v":0.5},{"g":"NGFRAP1","s":11,"v":0.5},{"g":"NGFRAP1","s":12,"v":0.5},{"g":"NGFRAP1","s":13,"v":0.5},{"g":"NGFRAP1","s":14,"v":0.5},{"g":"NGFRAP1","s":15,"v":0.5},{"g":"NGFRAP1","s":16,"v":0.7},{"g":"NGFRAP1","s":17,"v":0.9},{"g":"NGFRAP1","s":18,"v":0.9},{"g":"NGFRAP1","s":19,"v":0.9},{"g":"NGFRAP1","s":20,"v":0.7},{"g":"NGFRAP1","s":21,"v":0.7},{"g":"NGFRAP1","s":22,"v":0.9},{"g":"NGFRAP1","s":23,"v":0.7},{"g":"NGFRAP1","s":24,"v":0.9},{"g":"NGFRAP1","s":25,"v":0.7},{"g":"NGFRAP1","s":26,"v":0.9},{"g":"NGFRAP1","s":27,"v":0.9},{"g":"NGFRAP1","s":28,"v":0.9},{"g":"NGFRAP1","s":29,"v":0.9},{"g":"NGFRAP1","s":30,"v":0.7},
{"g":"DCTPP1","s":1,"v":0.5},{"g":"DCTPP1","s":2,"v":0.7},{"g":"DCTPP1","s":3,"v":0.9},{"g":"DCTPP1","s":4,"v":0.5},{"g":"DCTPP1","s":5,"v":0.5},{"g":"DCTPP1","s":6,"v":0.5},{"g":"DCTPP1","s":7,"v":0.5},{"g":"DCTPP1","s":8,"v":0.7},{"g":"DCTPP1","s":9,"v":0.3},{"g":"DCTPP1","s":10,"v":0.7},{"g":"DCTPP1","s":11,"v":0.5},{"g":"DCTPP1","s":12,"v":0.3},{"g":"DCTPP1","s":13,"v":0.5},{"g":"DCTPP1","s":14,"v":0.5},{"g":"DCTPP1","s":15,"v":0.5},{"g":"DCTPP1","s":16,"v":0.7},{"g":"DCTPP1","s":17,"v":0.9},{"g":"DCTPP1","s":18,"v":0.9},{"g":"DCTPP1","s":19,"v":0.9},{"g":"DCTPP1","s":20,"v":0.9},{"g":"DCTPP1","s":21,"v":0.9},{"g":"DCTPP1","s":22,"v":0.7},{"g":"DCTPP1","s":23,"v":0.7},{"g":"DCTPP1","s":24,"v":0.9},{"g":"DCTPP1","s":25,"v":0.9},{"g":"DCTPP1","s":26,"v":0.9},{"g":"DCTPP1","s":27,"v":0.9},{"g":"DCTPP1","s":28,"v":0.9},{"g":"DCTPP1","s":29,"v":0.9},{"g":"DCTPP1","s":30,"v":0.9},
{"g":"FAM100B","s":1,"v":0.3},{"g":"FAM100B","s":2,"v":0.7},{"g":"FAM100B","s":3,"v":0.7},{"g":"FAM100B","s":4,"v":0.5},{"g":"FAM100B","s":5,"v":0.5},{"g":"FAM100B","s":6,"v":0.5},{"g":"FAM100B","s":7,"v":0.5},{"g":"FAM100B","s":8,"v":0.7},{"g":"FAM100B","s":9,"v":0.5},{"g":"FAM100B","s":10,"v":0.5},{"g":"FAM100B","s":11,"v":0.5},{"g":"FAM100B","s":12,"v":0.3},{"g":"FAM100B","s":13,"v":0.5},{"g":"FAM100B","s":14,"v":0.5},{"g":"FAM100B","s":15,"v":0.5},{"g":"FAM100B","s":16,"v":0.9},{"g":"FAM100B","s":17,"v":0.9},{"g":"FAM100B","s":18,"v":0.9},{"g":"FAM100B","s":19,"v":0.9},{"g":"FAM100B","s":20,"v":0.9},{"g":"FAM100B","s":21,"v":0.9},{"g":"FAM100B","s":22,"v":0.9},{"g":"FAM100B","s":23,"v":0.9},{"g":"FAM100B","s":24,"v":0.9},{"g":"FAM100B","s":25,"v":0.9},{"g":"FAM100B","s":26,"v":0.9},{"g":"FAM100B","s":27,"v":0.9},{"g":"FAM100B","s":28,"v":0.9},{"g":"FAM100B","s":29,"v":0.9},{"g":"FAM100B","s":30,"v":0.7},
{"g":"SARS2","s":1,"v":0.5},{"g":"SARS2","s":2,"v":null},{"g":"SARS2","s":3,"v":0.7},{"g":"SARS2","s":4,"v":null},{"g":"SARS2","s":5,"v":0.3},{"g":"SARS2","s":6,"v":null},{"g":"SARS2","s":7,"v":null},{"g":"SARS2","s":8,"v":null},{"g":"SARS2","s":9,"v":null},{"g":"SARS2","s":10,"v":0.7},{"g":"SARS2","s":11,"v":0.5},{"g":"SARS2","s":12,"v":0.3},{"g":"SARS2","s":13,"v":0.5},{"g":"SARS2","s":14,"v":0.5},{"g":"SARS2","s":15,"v":0.7},{"g":"SARS2","s":16,"v":null},{"g":"SARS2","s":17,"v":0.9},{"g":"SARS2","s":18,"v":0.9},{"g":"SARS2","s":19,"v":null},{"g":"SARS2","s":20,"v":0.9},{"g":"SARS2","s":21,"v":0.9},{"g":"SARS2","s":22,"v":0.9},{"g":"SARS2","s":23,"v":0.9},{"g":"SARS2","s":24,"v":0.9},{"g":"SARS2","s":25,"v":0.9},{"g":"SARS2","s":26,"v":0.9},{"g":"SARS2","s":27,"v":0.9},{"g":"SARS2","s":28,"v":0.9},{"g":"SARS2","s":29,"v":0.9},{"g":"SARS2","s":30,"v":0.9},
{"g":"HMGN1","s":1,"v":0.5},{"g":"HMGN1","s":2,"v":0.7},{"g":"HMGN1","s":3,"v":0.7},{"g":"HMGN1","s":4,"v":0.5},{"g":"HMGN1","s":5,"v":0.5},{"g":"HMGN1","s":6,"v":0.7},{"g":"HMGN1","s":7,"v":0.5},{"g":"HMGN1","s":8,"v":0.7},{"g":"HMGN1","s":9,"v":0.7},{"g":"HMGN1","s":10,"v":0.5},{"g":"HMGN1","s":11,"v":0.7},{"g":"HMGN1","s":12,"v":0.5},{"g":"HMGN1","s":13,"v":0.5},{"g":"HMGN1","s":14,"v":0.5},{"g":"HMGN1","s":15,"v":0.5},{"g":"HMGN1","s":16,"v":0.9},{"g":"HMGN1","s":17,"v":0.9},{"g":"HMGN1","s":18,"v":0.9},{"g":"HMGN1","s":19,"v":0.9},{"g":"HMGN1","s":20,"v":0.9},{"g":"HMGN1","s":21,"v":0.9},{"g":"HMGN1","s":22,"v":0.5},{"g":"HMGN1","s":23,"v":0.9},{"g":"HMGN1","s":24,"v":0.9},{"g":"HMGN1","s":25,"v":0.9},{"g":"HMGN1","s":26,"v":0.9},{"g":"HMGN1","s":27,"v":0.9},{"g":"HMGN1","s":28,"v":0.9},{"g":"HMGN1","s":29,"v":0.9},{"g":"HMGN1","s":30,"v":0.7},
{"g":"MX1","s":1,"v":0.5},{"g":"MX1","s":2,"v":0.7},{"g":"MX1","s":3,"v":0.5},{"g":"MX1","s":4,"v":0.5},{"g":"MX1","s":5,"v":0.5},{"g":"MX1","s":6,"v":0.5},{"g":"MX1","s":7,"v":0.7},{"g":"MX1","s":8,"v":0.7},{"g":"MX1","s":9,"v":0.5},{"g":"MX1","s":10,"v":0.5},{"g":"MX1","s":11,"v":0.5},{"g":"MX1","s":12,"v":0.5},{"g":"MX1","s":13,"v":0.5},{"g":"MX1","s":14,"v":0.5},{"g":"MX1","s":15,"v":0.7},{"g":"MX1","s":16,"v":0.9},{"g":"MX1","s":17,"v":0.9},{"g":"MX1","s":18,"v":0.9},{"g":"MX1","s":19,"v":0.9},{"g":"MX1","s":20,"v":0.9},{"g":"MX1","s":21,"v":0.9},{"g":"MX1","s":22,"v":0.9},{"g":"MX1","s":23,"v":0.7},{"g":"MX1","s":24,"v":0.9},{"g":"MX1","s":25,"v":0.9},{"g":"MX1","s":26,"v":0.9},{"g":"MX1","s":27,"v":0.9},{"g":"MX1","s":28,"v":0.9},{"g":"MX1","s":29,"v":0.7},{"g":"MX1","s":30,"v":0.9},
{"g":"C14orf166","s":1,"v":0.5},{"g":"C14orf166","s":2,"v":0.7},{"g":"C14orf166","s":3,"v":0.7},{"g":"C14orf166","s":4,"v":0.5},{"g":"C14orf166","s":5,"v":0.5},{"g":"C14orf166","s":6,"v":0.7},{"g":"C14orf166","s":7,"v":0.7},{"g":"C14orf166","s":8,"v":0.5},{"g":"C14orf166","s":9,"v":0.5},{"g":"C14orf166","s":10,"v":0.5},{"g":"C14orf166","s":11,"v":0.5},{"g":"C14orf166","s":12,"v":0.5},{"g":"C14orf166","s":13,"v":0.5},{"g":"C14orf166","s":14,"v":0.5},{"g":"C14orf166","s":15,"v":0.5},{"g":"C14orf166","s":16,"v":0.9},{"g":"C14orf166","s":17,"v":0.9},{"g":"C14orf166","s":18,"v":0.9},{"g":"C14orf166","s":19,"v":0.9},{"g":"C14orf166","s":20,"v":0.9},{"g":"C14orf166","s":21,"v":0.9},{"g":"C14orf166","s":22,"v":0.9},{"g":"C14orf166","s":23,"v":0.9},{"g":"C14orf166","s":24,"v":0.9},{"g":"C14orf166","s":25,"v":0.9},{"g":"C14orf166","s":26,"v":0.9},{"g":"C14orf166","s":27,"v":0.9},{"g":"C14orf166","s":28,"v":0.9},{"g":"C14orf166","s":29,"v":0.9},{"g":"C14orf166","s":30,"v":0.9},
{"g":"ITGB4","s":1,"v":0.7},{"g":"ITGB4","s":2,"v":0.5},{"g":"ITGB4","s":3,"v":0.5},{"g":"ITGB4","s":4,"v":0.5},{"g":"ITGB4","s":5,"v":0.5},{"g":"ITGB4","s":6,"v":0.5},{"g":"ITGB4","s":7,"v":0.5},{"g":"ITGB4","s":8,"v":0.7},{"g":"ITGB4","s":9,"v":0.5},{"g":"ITGB4","s":10,"v":0.5},{"g":"ITGB4","s":11,"v":0.7},{"g":"ITGB4","s":12,"v":0.5},{"g":"ITGB4","s":13,"v":0.5},{"g":"ITGB4","s":14,"v":0.5},{"g":"ITGB4","s":15,"v":0.5},{"g":"ITGB4","s":16,"v":0.9},{"g":"ITGB4","s":17,"v":0.9},{"g":"ITGB4","s":18,"v":0.9},{"g":"ITGB4","s":19,"v":0.9},{"g":"ITGB4","s":20,"v":0.9},{"g":"ITGB4","s":21,"v":0.9},{"g":"ITGB4","s":22,"v":0.7},{"g":"ITGB4","s":23,"v":0.7},{"g":"ITGB4","s":24,"v":0.9},{"g":"ITGB4","s":25,"v":0.9},{"g":"ITGB4","s":26,"v":0.9},{"g":"ITGB4","s":27,"v":0.9},{"g":"ITGB4","s":28,"v":0.9},{"g":"ITGB4","s":29,"v":0.7},{"g":"ITGB4","s":30,"v":0.9},
{"g":"QSOX1","s":1,"v":0.9},{"g":"QSOX1","s":2,"v":0.5},{"g":"QSOX1","s":3,"v":0.5},{"g":"QSOX1","s":4,"v":0.5},{"g":"QSOX1","s":5,"v":0.5},{"g":"QSOX1","s":6,"v":0.5},{"g":"QSOX1","s":7,"v":0.5},{"g":"QSOX1","s":8,"v":0.7},{"g":"QSOX1","s":9,"v":0.7},{"g":"QSOX1","s":10,"v":0.7},{"g":"QSOX1","s":11,"v":0.7},{"g":"QSOX1","s":12,"v":0.7},{"g":"QSOX1","s":13,"v":0.5},{"g":"QSOX1","s":14,"v":0.5},{"g":"QSOX1","s":15,"v":0.5},{"g":"QSOX1","s":16,"v":0.9},{"g":"QSOX1","s":17,"v":0.9},{"g":"QSOX1","s":18,"v":0.9},{"g":"QSOX1","s":19,"v":0.9},{"g":"QSOX1","s":20,"v":0.9},{"g":"QSOX1","s":21,"v":0.9},{"g":"QSOX1","s":22,"v":0.9},{"g":"QSOX1","s":23,"v":0.9},{"g":"QSOX1","s":24,"v":0.9},{"g":"QSOX1","s":25,"v":0.9},{"g":"QSOX1","s":26,"v":0.9},{"g":"QSOX1","s":27,"v":0.9},{"g":"QSOX1","s":28,"v":0.9},{"g":"QSOX1","s":29,"v":0.9},{"g":"QSOX1","s":30,"v":0.9},
{"g":"XPO6","s":1,"v":0.7},{"g":"XPO6","s":2,"v":0.7},{"g":"XPO6","s":3,"v":0.7},{"g":"XPO6","s":4,"v":0.5},{"g":"XPO6","s":5,"v":0.5},{"g":"XPO6","s":6,"v":0.7},{"g":"XPO6","s":7,"v":0.7},{"g":"XPO6","s":8,"v":0.9},{"g":"XPO6","s":9,"v":0.5},{"g":"XPO6","s":10,"v":0.5},{"g":"XPO6","s":11,"v":0.7},{"g":"XPO6","s":12,"v":0.5},{"g":"XPO6","s":13,"v":0.5},{"g":"XPO6","s":14,"v":0.5},{"g":"XPO6","s":15,"v":0.7},{"g":"XPO6","s":16,"v":0.9},{"g":"XPO6","s":17,"v":0.9},{"g":"XPO6","s":18,"v":0.9},{"g":"XPO6","s":19,"v":0.9},{"g":"XPO6","s":20,"v":0.9},{"g":"XPO6","s":21,"v":0.9},{"g":"XPO6","s":22,"v":0.9},{"g":"XPO6","s":23,"v":0.9},{"g":"XPO6","s":24,"v":0.9},{"g":"XPO6","s":25,"v":0.9},{"g":"XPO6","s":26,"v":0.9},{"g":"XPO6","s":27,"v":0.9},{"g":"XPO6","s":28,"v":0.9},{"g":"XPO6","s":29,"v":0.9},{"g":"XPO6","s":30,"v":0.9},
{"g":"DYNLL1","s":1,"v":0.5},{"g":"DYNLL1","s":2,"v":0.7},{"g":"DYNLL1","s":3,"v":0.5},{"g":"DYNLL1","s":4,"v":0.5},{"g":"DYNLL1","s":5,"v":0.5},{"g":"DYNLL1","s":6,"v":0.5},{"g":"DYNLL1","s":7,"v":0.5},{"g":"DYNLL1","s":8,"v":0.5},{"g":"DYNLL1","s":9,"v":0.5},{"g":"DYNLL1","s":10,"v":0.5},{"g":"DYNLL1","s":11,"v":0.5},{"g":"DYNLL1","s":12,"v":0.5},{"g":"DYNLL1","s":13,"v":0.5},{"g":"DYNLL1","s":14,"v":0.5},{"g":"DYNLL1","s":15,"v":0.5},{"g":"DYNLL1","s":16,"v":0.9},{"g":"DYNLL1","s":17,"v":0.9},{"g":"DYNLL1","s":18,"v":0.9},{"g":"DYNLL1","s":19,"v":0.9},{"g":"DYNLL1","s":20,"v":0.9},{"g":"DYNLL1","s":21,"v":0.9},{"g":"DYNLL1","s":22,"v":0.9},{"g":"DYNLL1","s":23,"v":0.9},{"g":"DYNLL1","s":24,"v":0.9},{"g":"DYNLL1","s":25,"v":0.9},{"g":"DYNLL1","s":26,"v":0.9},{"g":"DYNLL1","s":27,"v":0.9},{"g":"DYNLL1","s":28,"v":0.9},{"g":"DYNLL1","s":29,"v":0.9},{"g":"DYNLL1","s":30,"v":0.9},
{"g":"SH3YL1","s":1,"v":0.5},{"g":"SH3YL1","s":2,"v":0.9},{"g":"SH3YL1","s":3,"v":0.7},{"g":"SH3YL1","s":4,"v":0.5},{"g":"SH3YL1","s":5,"v":0.7},{"g":"SH3YL1","s":6,"v":0.5},{"g":"SH3YL1","s":7,"v":0.5},{"g":"SH3YL1","s":8,"v":0.5},{"g":"SH3YL1","s":9,"v":0.7},{"g":"SH3YL1","s":10,"v":0.5},{"g":"SH3YL1","s":11,"v":0.5},{"g":"SH3YL1","s":12,"v":0.7},{"g":"SH3YL1","s":13,"v":0.7},{"g":"SH3YL1","s":14,"v":0.5},{"g":"SH3YL1","s":15,"v":0.7},{"g":"SH3YL1","s":16,"v":0.9},{"g":"SH3YL1","s":17,"v":0.9},{"g":"SH3YL1","s":18,"v":0.7},{"g":"SH3YL1","s":19,"v":0.9},{"g":"SH3YL1","s":20,"v":0.9},{"g":"SH3YL1","s":21,"v":0.9},{"g":"SH3YL1","s":22,"v":0.9},{"g":"SH3YL1","s":23,"v":0.9},{"g":"SH3YL1","s":24,"v":0.9},{"g":"SH3YL1","s":25,"v":0.9},{"g":"SH3YL1","s":26,"v":0.9},{"g":"SH3YL1","s":27,"v":0.9},{"g":"SH3YL1","s":28,"v":0.9},{"g":"SH3YL1","s":29,"v":0.9},{"g":"SH3YL1","s":30,"v":0.9},
{"g":"PTMA","s":1,"v":0.7},{"g":"PTMA","s":2,"v":0.7},{"g":"PTMA","s":3,"v":0.5},{"g":"PTMA","s":4,"v":0.5},{"g":"PTMA","s":5,"v":0.5},{"g":"PTMA","s":6,"v":0.7},{"g":"PTMA","s":7,"v":0.7},{"g":"PTMA","s":8,"v":0.7},{"g":"PTMA","s":9,"v":0.5},{"g":"PTMA","s":10,"v":0.5},{"g":"PTMA","s":11,"v":0.7},{"g":"PTMA","s":12,"v":0.5},{"g":"PTMA","s":13,"v":0.5},{"g":"PTMA","s":14,"v":0.5},{"g":"PTMA","s":15,"v":0.5},{"g":"PTMA","s":16,"v":0.9},{"g":"PTMA","s":17,"v":0.9},{"g":"PTMA","s":18,"v":0.9},{"g":"PTMA","s":19,"v":0.9},{"g":"PTMA","s":20,"v":0.9},{"g":"PTMA","s":21,"v":0.9},{"g":"PTMA","s":22,"v":0.9},{"g":"PTMA","s":23,"v":0.9},{"g":"PTMA","s":24,"v":0.9},{"g":"PTMA","s":25,"v":0.9},{"g":"PTMA","s":26,"v":0.7},{"g":"PTMA","s":27,"v":0.7},{"g":"PTMA","s":28,"v":0.9},{"g":"PTMA","s":29,"v":0.9},{"g":"PTMA","s":30,"v":0.7},
{"g":"HES1","s":1,"v":0.9},{"g":"HES1","s":2,"v":0.7},{"g":"HES1","s":3,"v":0.5},{"g":"HES1","s":4,"v":0.5},{"g":"HES1","s":5,"v":0.7},{"g":"HES1","s":6,"v":0.3},{"g":"HES1","s":7,"v":0.5},{"g":"HES1","s":8,"v":0.5},{"g":"HES1","s":9,"v":0.5},{"g":"HES1","s":10,"v":0.5},{"g":"HES1","s":11,"v":0.3},{"g":"HES1","s":12,"v":0.3},{"g":"HES1","s":13,"v":0.5},{"g":"HES1","s":14,"v":0.3},{"g":"HES1","s":15,"v":0.5},{"g":"HES1","s":16,"v":0.9},{"g":"HES1","s":17,"v":0.9},{"g":"HES1","s":18,"v":0.9},{"g":"HES1","s":19,"v":0.9},{"g":"HES1","s":20,"v":0.9},{"g":"HES1","s":21,"v":0.9},{"g":"HES1","s":22,"v":0.9},{"g":"HES1","s":23,"v":0.9},{"g":"HES1","s":24,"v":0.9},{"g":"HES1","s":25,"v":0.9},{"g":"HES1","s":26,"v":0.7},{"g":"HES1","s":27,"v":0.9},{"g":"HES1","s":28,"v":0.9},{"g":"HES1","s":29,"v":0.9},{"g":"HES1","s":30,"v":0.9},
{"g":"MKNK2","s":1,"v":0.5},{"g":"MKNK2","s":2,"v":0.5},{"g":"MKNK2","s":3,"v":0.5},{"g":"MKNK2","s":4,"v":0.5},{"g":"MKNK2","s":5,"v":0.5},{"g":"MKNK2","s":6,"v":0.3},{"g":"MKNK2","s":7,"v":0.5},{"g":"MKNK2","s":8,"v":0.5},{"g":"MKNK2","s":9,"v":0.5},{"g":"MKNK2","s":10,"v":0.5},{"g":"MKNK2","s":11,"v":0.5},{"g":"MKNK2","s":12,"v":0.5},{"g":"MKNK2","s":13,"v":0.5},{"g":"MKNK2","s":14,"v":0.3},{"g":"MKNK2","s":15,"v":0.5},{"g":"MKNK2","s":16,"v":0.7},{"g":"MKNK2","s":17,"v":0.9},{"g":"MKNK2","s":18,"v":0.9},{"g":"MKNK2","s":19,"v":0.9},{"g":"MKNK2","s":20,"v":0.9},{"g":"MKNK2","s":21,"v":0.9},{"g":"MKNK2","s":22,"v":0.9},{"g":"MKNK2","s":23,"v":0.9},{"g":"MKNK2","s":24,"v":0.9},{"g":"MKNK2","s":25,"v":0.9},{"g":"MKNK2","s":26,"v":0.9},{"g":"MKNK2","s":27,"v":0.9},{"g":"MKNK2","s":28,"v":0.9},{"g":"MKNK2","s":29,"v":0.9},{"g":"MKNK2","s":30,"v":0.9},
{"g":"SNW1","s":1,"v":0.5},{"g":"SNW1","s":2,"v":0.9},{"g":"SNW1","s":3,"v":0.5},{"g":"SNW1","s":4,"v":0.3},{"g":"SNW1","s":5,"v":0.5},{"g":"SNW1","s":6,"v":0.5},{"g":"SNW1","s":7,"v":0.3},{"g":"SNW1","s":8,"v":0.5},{"g":"SNW1","s":9,"v":0.5},{"g":"SNW1","s":10,"v":0.5},{"g":"SNW1","s":11,"v":0.3},{"g":"SNW1","s":12,"v":0.5},{"g":"SNW1","s":13,"v":0.5},{"g":"SNW1","s":14,"v":0.5},{"g":"SNW1","s":15,"v":0.3},{"g":"SNW1","s":16,"v":0.7},{"g":"SNW1","s":17,"v":0.9},{"g":"SNW1","s":18,"v":0.7},{"g":"SNW1","s":19,"v":0.7},{"g":"SNW1","s":20,"v":0.9},{"g":"SNW1","s":21,"v":0.9},{"g":"SNW1","s":22,"v":0.9},{"g":"SNW1","s":23,"v":0.7},{"g":"SNW1","s":24,"v":0.9},{"g":"SNW1","s":25,"v":0.9},{"g":"SNW1","s":26,"v":0.9},{"g":"SNW1","s":27,"v":0.9},{"g":"SNW1","s":28,"v":0.9},{"g":"SNW1","s":29,"v":0.9},{"g":"SNW1","s":30,"v":0.9},
{"g":"UBE2M","s":1,"v":0.3},{"g":"UBE2M","s":2,"v":0.7},{"g":"UBE2M","s":3,"v":0.5},{"g":"UBE2M","s":4,"v":0.3},{"g":"UBE2M","s":5,"v":0.3},{"g":"UBE2M","s":6,"v":0.5},{"g":"UBE2M","s":7,"v":0.3},{"g":"UBE2M","s":8,"v":0.3},{"g":"UBE2M","s":9,"v":0.5},{"g":"UBE2M","s":10,"v":0.5},{"g":"UBE2M","s":11,"v":0.3},{"g":"UBE2M","s":12,"v":0.3},{"g":"UBE2M","s":13,"v":0.5},{"g":"UBE2M","s":14,"v":0.5},{"g":"UBE2M","s":15,"v":0.3},{"g":"UBE2M","s":16,"v":0.5},{"g":"UBE2M","s":17,"v":0.7},{"g":"UBE2M","s":18,"v":0.7},{"g":"UBE2M","s":19,"v":0.7},{"g":"UBE2M","s":20,"v":0.9},{"g":"UBE2M","s":21,"v":0.9},{"g":"UBE2M","s":22,"v":0.9},{"g":"UBE2M","s":23,"v":0.9},{"g":"UBE2M","s":24,"v":0.9},{"g":"UBE2M","s":25,"v":0.9},{"g":"UBE2M","s":26,"v":0.9},{"g":"UBE2M","s":27,"v":0.9},{"g":"UBE2M","s":28,"v":0.9},{"g":"UBE2M","s":29,"v":0.9},{"g":"UBE2M","s":30,"v":0.9},
{"g":"B4GALT3","s":1,"v":0.5},{"g":"B4GALT3","s":2,"v":0.7},{"g":"B4GALT3","s":3,"v":0.5},{"g":"B4GALT3","s":4,"v":0.3},{"g":"B4GALT3","s":5,"v":0.3},{"g":"B4GALT3","s":6,"v":0.5},{"g":"B4GALT3","s":7,"v":0.5},{"g":"B4GALT3","s":8,"v":0.5},{"g":"B4GALT3","s":9,"v":0.5},{"g":"B4GALT3","s":10,"v":0.3},{"g":"B4GALT3","s":11,"v":0.5},{"g":"B4GALT3","s":12,"v":0.5},{"g":"B4GALT3","s":13,"v":0.5},{"g":"B4GALT3","s":14,"v":0.5},{"g":"B4GALT3","s":15,"v":0.3},{"g":"B4GALT3","s":16,"v":0.7},{"g":"B4GALT3","s":17,"v":0.9},{"g":"B4GALT3","s":18,"v":0.9},{"g":"B4GALT3","s":19,"v":0.9},{"g":"B4GALT3","s":20,"v":0.9},{"g":"B4GALT3","s":21,"v":0.9},{"g":"B4GALT3","s":22,"v":0.7},{"g":"B4GALT3","s":23,"v":0.9},{"g":"B4GALT3","s":24,"v":0.9},{"g":"B4GALT3","s":25,"v":0.9},{"g":"B4GALT3","s":26,"v":0.9},{"g":"B4GALT3","s":27,"v":0.9},{"g":"B4GALT3","s":28,"v":0.9},{"g":"B4GALT3","s":29,"v":0.7},{"g":"B4GALT3","s":30,"v":0.9},
{"g":"LDB1","s":1,"v":0.3},{"g":"LDB1","s":2,"v":0.7},{"g":"LDB1","s":3,"v":0.5},{"g":"LDB1","s":4,"v":0.3},{"g":"LDB1","s":5,"v":0.3},{"g":"LDB1","s":6,"v":0.5},{"g":"LDB1","s":7,"v":0.3},{"g":"LDB1","s":8,"v":0.3},{"g":"LDB1","s":9,"v":0.5},{"g":"LDB1","s":10,"v":0.5},{"g":"LDB1","s":11,"v":0.3},{"g":"LDB1","s":12,"v":0.3},{"g":"LDB1","s":13,"v":0.5},{"g":"LDB1","s":14,"v":0.3},{"g":"LDB1","s":15,"v":0.5},{"g":"LDB1","s":16,"v":0.7},{"g":"LDB1","s":17,"v":0.7},{"g":"LDB1","s":18,"v":0.9},{"g":"LDB1","s":19,"v":0.9},{"g":"LDB1","s":20,"v":0.9},{"g":"LDB1","s":21,"v":0.9},{"g":"LDB1","s":22,"v":0.9},{"g":"LDB1","s":23,"v":0.9},{"g":"LDB1","s":24,"v":0.9},{"g":"LDB1","s":25,"v":0.9},{"g":"LDB1","s":26,"v":0.9},{"g":"LDB1","s":27,"v":0.9},{"g":"LDB1","s":28,"v":0.9},{"g":"LDB1","s":29,"v":0.9},{"g":"LDB1","s":30,"v":0.9},
{"g":"SDC4","s":1,"v":0.5},{"g":"SDC4","s":2,"v":0.7},{"g":"SDC4","s":3,"v":0.9},{"g":"SDC4","s":4,"v":0.5},{"g":"SDC4","s":5,"v":0.3},{"g":"SDC4","s":6,"v":0.3},{"g":"SDC4","s":7,"v":0.5},{"g":"SDC4","s":8,"v":0.5},{"g":"SDC4","s":9,"v":0.5},{"g":"SDC4","s":10,"v":0.5},{"g":"SDC4","s":11,"v":0.3},{"g":"SDC4","s":12,"v":0.5},{"g":"SDC4","s":13,"v":0.5},{"g":"SDC4","s":14,"v":0.5},{"g":"SDC4","s":15,"v":0.5},{"g":"SDC4","s":16,"v":0.7},{"g":"SDC4","s":17,"v":0.5},{"g":"SDC4","s":18,"v":0.7},{"g":"SDC4","s":19,"v":0.7},{"g":"SDC4","s":20,"v":0.9},{"g":"SDC4","s":21,"v":0.7},{"g":"SDC4","s":22,"v":0.9},{"g":"SDC4","s":23,"v":0.7},{"g":"SDC4","s":24,"v":0.9},{"g":"SDC4","s":25,"v":0.9},{"g":"SDC4","s":26,"v":0.9},{"g":"SDC4","s":27,"v":0.9},{"g":"SDC4","s":28,"v":0.9},{"g":"SDC4","s":29,"v":0.9},{"g":"SDC4","s":30,"v":0.9},
{"g":"YME1L1","s":1,"v":0.5},{"g":"YME1L1","s":2,"v":0.7},{"g":"YME1L1","s":3,"v":0.5},{"g":"YME1L1","s":4,"v":0.7},{"g":"YME1L1","s":5,"v":0.5},{"g":"YME1L1","s":6,"v":0.3},{"g":"YME1L1","s":7,"v":0.5},{"g":"YME1L1","s":8,"v":0.5},{"g":"YME1L1","s":9,"v":0.5},{"g":"YME1L1","s":10,"v":0.5},{"g":"YME1L1","s":11,"v":0.5},{"g":"YME1L1","s":12,"v":0.5},{"g":"YME1L1","s":13,"v":0.5},{"g":"YME1L1","s":14,"v":0.5},{"g":"YME1L1","s":15,"v":0.5},{"g":"YME1L1","s":16,"v":0.7},{"g":"YME1L1","s":17,"v":0.7},{"g":"YME1L1","s":18,"v":0.7},{"g":"YME1L1","s":19,"v":0.7},{"g":"YME1L1","s":20,"v":0.7},{"g":"YME1L1","s":21,"v":0.9},{"g":"YME1L1","s":22,"v":0.9},{"g":"YME1L1","s":23,"v":0.9},{"g":"YME1L1","s":24,"v":0.9},{"g":"YME1L1","s":25,"v":0.9},{"g":"YME1L1","s":26,"v":0.9},{"g":"YME1L1","s":27,"v":0.9},{"g":"YME1L1","s":28,"v":0.9},{"g":"YME1L1","s":29,"v":0.9},{"g":"YME1L1","s":30,"v":0.9},
{"g":"S100A10","s":1,"v":0.5},{"g":"S100A10","s":2,"v":0.7},{"g":"S100A10","s":3,"v":0.5},{"g":"S100A10","s":4,"v":0.5},{"g":"S100A10","s":5,"v":0.3},{"g":"S100A10","s":6,"v":0.3},{"g":"S100A10","s":7,"v":0.5},{"g":"S100A10","s":8,"v":0.5},{"g":"S100A10","s":9,"v":0.5},{"g":"S100A10","s":10,"v":0.5},{"g":"S100A10","s":11,"v":0.5},{"g":"S100A10","s":12,"v":0.5},{"g":"S100A10","s":13,"v":0.5},{"g":"S100A10","s":14,"v":0.5},{"g":"S100A10","s":15,"v":0.7},{"g":"S100A10","s":16,"v":0.7},{"g":"S100A10","s":17,"v":0.7},{"g":"S100A10","s":18,"v":0.5},{"g":"S100A10","s":19,"v":0.7},{"g":"S100A10","s":20,"v":0.9},{"g":"S100A10","s":21,"v":0.7},{"g":"S100A10","s":22,"v":0.7},{"g":"S100A10","s":23,"v":0.9},{"g":"S100A10","s":24,"v":0.9},{"g":"S100A10","s":25,"v":0.9},{"g":"S100A10","s":26,"v":0.9},{"g":"S100A10","s":27,"v":0.9},{"g":"S100A10","s":28,"v":0.9},{"g":"S100A10","s":29,"v":0.9},{"g":"S100A10","s":30,"v":0.9},
{"g":"KLHDC2","s":1,"v":0.5},{"g":"KLHDC2","s":2,"v":0.7},{"g":"KLHDC2","s":3,"v":0.5},{"g":"KLHDC2","s":4,"v":0.5},{"g":"KLHDC2","s":5,"v":0.5},{"g":"KLHDC2","s":6,"v":0.5},{"g":"KLHDC2","s":7,"v":0.5},{"g":"KLHDC2","s":8,"v":0.5},{"g":"KLHDC2","s":9,"v":0.5},{"g":"KLHDC2","s":10,"v":0.5},{"g":"KLHDC2","s":11,"v":0.5},{"g":"KLHDC2","s":12,"v":0.5},{"g":"KLHDC2","s":13,"v":0.3},{"g":"KLHDC2","s":14,"v":0.3},{"g":"KLHDC2","s":15,"v":0.5},{"g":"KLHDC2","s":16,"v":0.9},{"g":"KLHDC2","s":17,"v":0.9},{"g":"KLHDC2","s":18,"v":0.7},{"g":"KLHDC2","s":19,"v":0.7},{"g":"KLHDC2","s":20,"v":0.7},{"g":"KLHDC2","s":21,"v":0.7},{"g":"KLHDC2","s":22,"v":0.7},{"g":"KLHDC2","s":23,"v":0.9},{"g":"KLHDC2","s":24,"v":0.9},{"g":"KLHDC2","s":25,"v":0.9},{"g":"KLHDC2","s":26,"v":0.9},{"g":"KLHDC2","s":27,"v":0.9},{"g":"KLHDC2","s":28,"v":0.9},{"g":"KLHDC2","s":29,"v":0.9},{"g":"KLHDC2","s":30,"v":0.7},
{"g":"RPL4","s":1,"v":0.5},{"g":"RPL4","s":2,"v":0.5},{"g":"RPL4","s":3,"v":0.5},{"g":"RPL4","s":4,"v":0.5},{"g":"RPL4","s":5,"v":0.5},{"g":"RPL4","s":6,"v":0.3},{"g":"RPL4","s":7,"v":0.3},{"g":"RPL4","s":8,"v":0.3},{"g":"RPL4","s":9,"v":0.3},{"g":"RPL4","s":10,"v":0.3},{"g":"RPL4","s":11,"v":0.3},{"g":"RPL4","s":12,"v":0.3},{"g":"RPL4","s":13,"v":0.3},{"g":"RPL4","s":14,"v":0.3},{"g":"RPL4","s":15,"v":0.3},{"g":"RPL4","s":16,"v":0.7},{"g":"RPL4","s":17,"v":0.7},{"g":"RPL4","s":18,"v":0.9},{"g":"RPL4","s":19,"v":0.7},{"g":"RPL4","s":20,"v":0.9},{"g":"RPL4","s":21,"v":0.7},{"g":"RPL4","s":22,"v":0.5},{"g":"RPL4","s":23,"v":0.5},{"g":"RPL4","s":24,"v":0.9},{"g":"RPL4","s":25,"v":0.7},{"g":"RPL4","s":26,"v":0.9},{"g":"RPL4","s":27,"v":0.9},{"g":"RPL4","s":28,"v":0.9},{"g":"RPL4","s":29,"v":0.7},{"g":"RPL4","s":30,"v":0.5},
{"g":"LMNA","s":1,"v":0.1},{"g":"LMNA","s":2,"v":0.3},{"g":"LMNA","s":3,"v":0.3},{"g":"LMNA","s":4,"v":0.1},{"g":"LMNA","s":5,"v":0.1},{"g":"LMNA","s":6,"v":0.3},{"g":"LMNA","s":7,"v":0.1},{"g":"LMNA","s":8,"v":0.1},{"g":"LMNA","s":9,"v":0.3},{"g":"LMNA","s":10,"v":0.5},{"g":"LMNA","s":11,"v":0.1},{"g":"LMNA","s":12,"v":0.3},{"g":"LMNA","s":13,"v":0.3},{"g":"LMNA","s":14,"v":0.1},{"g":"LMNA","s":15,"v":0.3},{"g":"LMNA","s":16,"v":0.9},{"g":"LMNA","s":17,"v":0.7},{"g":"LMNA","s":18,"v":0.9},{"g":"LMNA","s":19,"v":0.9},{"g":"LMNA","s":20,"v":0.7},{"g":"LMNA","s":21,"v":0.7},{"g":"LMNA","s":22,"v":0.9},{"g":"LMNA","s":23,"v":0.9},{"g":"LMNA","s":24,"v":0.9},{"g":"LMNA","s":25,"v":0.7},{"g":"LMNA","s":26,"v":0.9},{"g":"LMNA","s":27,"v":0.9},{"g":"LMNA","s":28,"v":0.9},{"g":"LMNA","s":29,"v":0.9},{"g":"LMNA","s":30,"v":0.9},
{"g":"MRPS28","s":1,"v":0.3},{"g":"MRPS28","s":2,"v":0.5},{"g":"MRPS28","s":3,"v":0.5},{"g":"MRPS28","s":4,"v":0.7},{"g":"MRPS28","s":5,"v":0.7},{"g":"MRPS28","s":6,"v":0.3},{"g":"MRPS28","s":7,"v":0.3},{"g":"MRPS28","s":8,"v":0.5},{"g":"MRPS28","s":9,"v":0.3},{"g":"MRPS28","s":10,"v":0.3},{"g":"MRPS28","s":11,"v":0.1},{"g":"MRPS28","s":12,"v":0.3},{"g":"MRPS28","s":13,"v":0.3},{"g":"MRPS28","s":14,"v":0.5},{"g":"MRPS28","s":15,"v":0.3},{"g":"MRPS28","s":16,"v":0.5},{"g":"MRPS28","s":17,"v":0.9},{"g":"MRPS28","s":18,"v":0.7},{"g":"MRPS28","s":19,"v":0.9},{"g":"MRPS28","s":20,"v":0.9},{"g":"MRPS28","s":21,"v":0.9},{"g":"MRPS28","s":22,"v":0.9},{"g":"MRPS28","s":23,"v":0.9},{"g":"MRPS28","s":24,"v":0.9},{"g":"MRPS28","s":25,"v":0.9},{"g":"MRPS28","s":26,"v":0.9},{"g":"MRPS28","s":27,"v":0.9},{"g":"MRPS28","s":28,"v":0.9},{"g":"MRPS28","s":29,"v":0.9},{"g":"MRPS28","s":30,"v":0.9},
{"g":"BRD8","s":1,"v":0.5},{"g":"BRD8","s":2,"v":0.3},{"g":"BRD8","s":3,"v":0.5},{"g":"BRD8","s":4,"v":null},{"g":"BRD8","s":5,"v":0.3},{"g":"BRD8","s":6,"v":0.3},{"g":"BRD8","s":7,"v":0.5},{"g":"BRD8","s":8,"v":0.3},{"g":"BRD8","s":9,"v":0.5},{"g":"BRD8","s":10,"v":0.3},{"g":"BRD8","s":11,"v":0.3},{"g":"BRD8","s":12,"v":0.5},{"g":"BRD8","s":13,"v":0.3},{"g":"BRD8","s":14,"v":0.3},{"g":"BRD8","s":15,"v":0.3},{"g":"BRD8","s":16,"v":0.7},{"g":"BRD8","s":17,"v":0.7},{"g":"BRD8","s":18,"v":0.9},{"g":"BRD8","s":19,"v":0.9},{"g":"BRD8","s":20,"v":0.7},{"g":"BRD8","s":21,"v":0.7},{"g":"BRD8","s":22,"v":0.7},{"g":"BRD8","s":23,"v":0.7},{"g":"BRD8","s":24,"v":0.9},{"g":"BRD8","s":25,"v":0.9},{"g":"BRD8","s":26,"v":0.9},{"g":"BRD8","s":27,"v":0.9},{"g":"BRD8","s":28,"v":0.9},{"g":"BRD8","s":29,"v":0.9},{"g":"BRD8","s":30,"v":0.9},
{"g":"NDUFB3","s":1,"v":0.3},{"g":"NDUFB3","s":2,"v":0.3},{"g":"NDUFB3","s":3,"v":0.5},{"g":"NDUFB3","s":4,"v":0.5},{"g":"NDUFB3","s":5,"v":0.3},{"g":"NDUFB3","s":6,"v":0.3},{"g":"NDUFB3","s":7,"v":0.5},{"g":"NDUFB3","s":8,"v":0.3},{"g":"NDUFB3","s":9,"v":0.3},{"g":"NDUFB3","s":10,"v":0.5},{"g":"NDUFB3","s":11,"v":0.3},{"g":"NDUFB3","s":12,"v":0.3},{"g":"NDUFB3","s":13,"v":0.3},{"g":"NDUFB3","s":14,"v":0.5},{"g":"NDUFB3","s":15,"v":0.3},{"g":"NDUFB3","s":16,"v":0.5},{"g":"NDUFB3","s":17,"v":0.7},{"g":"NDUFB3","s":18,"v":0.7},{"g":"NDUFB3","s":19,"v":0.7},{"g":"NDUFB3","s":20,"v":0.9},{"g":"NDUFB3","s":21,"v":0.7},{"g":"NDUFB3","s":22,"v":0.7},{"g":"NDUFB3","s":23,"v":0.9},{"g":"NDUFB3","s":24,"v":0.9},{"g":"NDUFB3","s":25,"v":0.9},{"g":"NDUFB3","s":26,"v":0.7},{"g":"NDUFB3","s":27,"v":0.9},{"g":"NDUFB3","s":28,"v":0.9},{"g":"NDUFB3","s":29,"v":0.9},{"g":"NDUFB3","s":30,"v":0.9},
{"g":"SEC11A","s":1,"v":0.3},{"g":"SEC11A","s":2,"v":0.5},{"g":"SEC11A","s":3,"v":0.5},{"g":"SEC11A","s":4,"v":0.3},{"g":"SEC11A","s":5,"v":0.5},{"g":"SEC11A","s":6,"v":0.3},{"g":"SEC11A","s":7,"v":0.5},{"g":"SEC11A","s":8,"v":0.5},{"g":"SEC11A","s":9,"v":0.3},{"g":"SEC11A","s":10,"v":0.5},{"g":"SEC11A","s":11,"v":0.3},{"g":"SEC11A","s":12,"v":0.5},{"g":"SEC11A","s":13,"v":0.5},{"g":"SEC11A","s":14,"v":0.3},{"g":"SEC11A","s":15,"v":0.3},{"g":"SEC11A","s":16,"v":0.7},{"g":"SEC11A","s":17,"v":0.7},{"g":"SEC11A","s":18,"v":0.7},{"g":"SEC11A","s":19,"v":0.7},{"g":"SEC11A","s":20,"v":0.9},{"g":"SEC11A","s":21,"v":0.9},{"g":"SEC11A","s":22,"v":0.9},{"g":"SEC11A","s":23,"v":0.9},{"g":"SEC11A","s":24,"v":0.9},{"g":"SEC11A","s":25,"v":0.9},{"g":"SEC11A","s":26,"v":0.9},{"g":"SEC11A","s":27,"v":0.9},{"g":"SEC11A","s":28,"v":0.9},{"g":"SEC11A","s":29,"v":0.9},{"g":"SEC11A","s":30,"v":0.9}
]
},
"vconcat": [
{
"width": 400, "height": 29.2,
"data": {"name": "groups"},
"layer": [
{"mark": {"type": "rect", "stroke": "white", "strokeWidth": 1.5},
"encoding": {
"x": {"field": "s", "type": "ordinal", "axis": null, "scale": {"domain": [1,2,3,4,5,6,7,8,9,10,11,12,13,14,15,16,17,18,19,20,21,22,23,24,25,26,27,28,29,30], "paddingInner": 0, "paddingOuter": 0}},
"y": {"field": "row", "type": "nominal", "scale": {"domain": ["legend","Groups"], "paddingInner": 0.175, "paddingOuter": 0}, "axis": {"orient": "right", "title": null, "domain": false, "ticks": false, "labelExpr": "datum.value == 'Groups' ? 'Groups' : ''", "labelFontWeight": "bold", "labelFontSize": 13, "labelPadding": 5, "labelColor": "black", "labelFont": "Liberation Sans"}},
"color": {"field": "grp", "type": "nominal", "scale": {"domain": ["Normal","Cancer"], "range": ["#3BB5C3","#EC8C8C"]}, "legend": null}
}},
{"transform": [{"filter": "datum.row == 'legend'"}],
"mark": {"type": "text", "align": "left", "baseline": "middle", "dx": 10, "fontSize": 10.5, "fontWeight": "bold", "color": "#222222", "font": "Liberation Sans"},
"encoding": {
"x": {"field": "s", "type": "ordinal"},
"y": {"field": "row", "type": "nominal"},
"text": {"field": "grp"}
}}
]
},
{
"width": 400, "height": 653,
"data": {"name": "cells"},
"transform": [{"filter": "datum.v != null"}],
"mark": {"type": "rect", "stroke": "white", "strokeWidth": 1.5},
"encoding": {
"x": {"field": "s", "type": "ordinal", "axis": null, "scale": {"domain": [1,2,3,4,5,6,7,8,9,10,11,12,13,14,15,16,17,18,19,20,21,22,23,24,25,26,27,28,29,30], "paddingInner": 0, "paddingOuter": 0}},
"y": {"field": "g", "type": "nominal", "scale": {"domain": ["ADH5","GSTM3","RALA","PAFAH1B1","RAC1","MYLIP","COX6A1","HNRNPA1","ASNS","HDAC8","ERGIC2","C22orf39","NPM1","EIF2B5","KDM3A","PPP1R37","CLIC1","APH1A","H3F3C","PPAN","CKAP5","RBBP7","PGAM1","GRIPAP1","SNX2","ENSA","ARAF","PSMA4","SENP3-EIF4A1","NGFRAP1","DCTPP1","FAM100B","SARS2","HMGN1","MX1","C14orf166","ITGB4","QSOX1","XPO6","DYNLL1","SH3YL1","PTMA","HES1","MKNK2","SNW1","UBE2M","B4GALT3","LDB1","SDC4","YME1L1","S100A10","KLHDC2","RPL4","LMNA","MRPS28","BRD8","NDUFB3","SEC11A"], "paddingInner": 0, "paddingOuter": 0}, "axis": {"orient": "right", "title": null, "domain": false, "ticks": false, "labelPadding": 5, "labelFontSize": 12.5, "labelColor": "black", "labelFont": "Liberation Sans", "labelOverlap": false}},
"color": {"field": "v", "type": "quantitative", "scale": {"type": "quantize", "domain": [0, 1], "nice": false, "range": ["#E31F24","#E54B20","#EE7F24","#F2B52A","#ECE63E"]}, "legend": {"type": "gradient", "title": "PDUI", "orient": "none", "legendX": 498, "legendY": 408, "direction": "vertical", "gradientLength": 212, "gradientThickness": 18, "values": [0, 0.2, 0.4, 0.6, 0.8, 1], "labelExpr": "datum.value == 0 ? '' : format(datum.value, '~g')", "labelOverlap": false, "titleFontSize": 14, "titleFontWeight": "normal", "titleColor": "black", "titleFont": "Liberation Sans", "titlePadding": 14, "labelFontSize": 10, "labelColor": "black", "labelFont": "Liberation Sans", "labelOffset": 3}}
}
}
]
}
